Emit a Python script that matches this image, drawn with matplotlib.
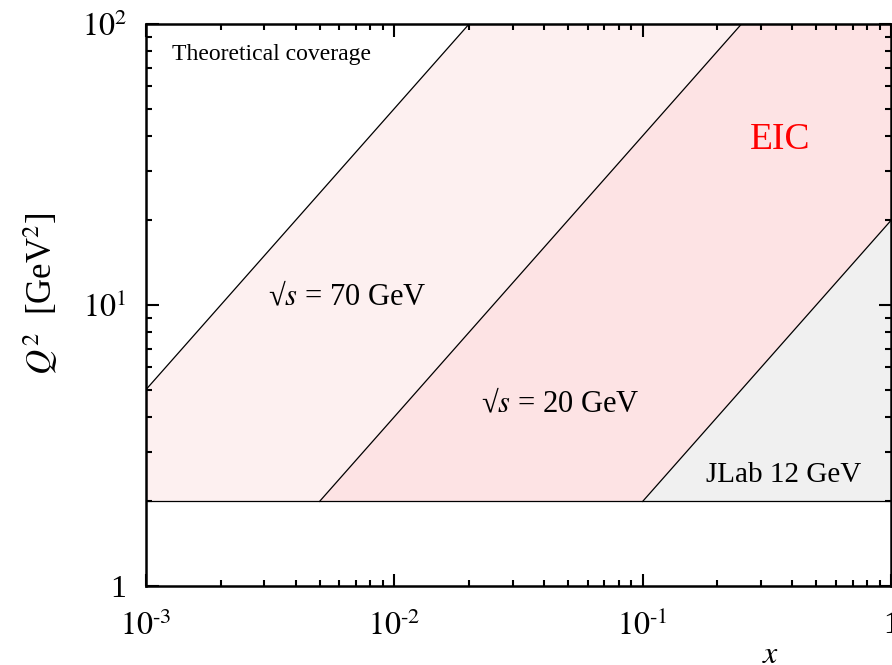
import matplotlib
matplotlib.use("Agg")
import matplotlib.pyplot as plt
from matplotlib.ticker import LogLocator, FixedLocator, NullFormatter

plt.rcParams['font.family'] = ['Liberation Serif', 'DejaVu Serif']
plt.rcParams['mathtext.fontset'] = 'stix'

# kinematic boundaries (x, Q^2)
x_70 = [0.001, 0.02]
q2_70 = [5.0, 100.0]
x_20 = [0.005, 0.25]
q2_20 = [2.0, 100.0]
x_jlab = [0.1, 1.0]
q2_jlab = [2.0, 20.0]
q2_cut = 2.0
x_range = [0.001, 1.0]
q2_range = [1.0, 100.0]

x_ticks = [0.001, 0.01, 0.1, 1.0]
x_tick_labels = [r'$10^{\text{-}3}$', r'$10^{\text{-}2}$', r'$10^{\text{-}1}$', '1']
y_ticks = [1.0, 10.0, 100.0]
y_tick_labels = ['1', r'$10^{1}$', r'$10^{2}$']

fig = plt.figure(figsize=(8.92, 6.65), dpi=100)
ax = fig.add_axes([146 / 892, 1 - 586 / 665, 745 / 892, 562 / 665])
ax.set_xscale('log')
ax.set_yscale('log')

# shaded regions
ax.fill([x_70[0]] + x_70 + x_20[::-1], [q2_cut] + q2_70 + q2_20[::-1],
        color='#fdf0f0', lw=0)
ax.fill(x_20 + [x_range[1]] + x_jlab[::-1], q2_20 + [q2_range[1]] + q2_jlab[::-1],
        color='#fde3e4', lw=0)
ax.fill(x_jlab + [x_jlab[1]], q2_jlab + [q2_cut], color='#f0f0f0', lw=0)

# boundary lines
for xs, ys in [(x_70, q2_70), (x_20, q2_20), (x_jlab, q2_jlab), (x_range, [q2_cut, q2_cut])]:
    ax.plot(xs, ys, color='black', lw=0.9)

ax.set_xlim(x_range)
ax.set_ylim(q2_range)

ax.xaxis.set_major_locator(FixedLocator(x_ticks))
ax.set_xticklabels(x_tick_labels)
ax.yaxis.set_major_locator(FixedLocator(y_ticks))
ax.set_yticklabels(y_tick_labels)
for axis in (ax.xaxis, ax.yaxis):
    axis.set_minor_locator(LogLocator(base=10, subs=range(2, 10)))
    axis.set_minor_formatter(NullFormatter())

ax.tick_params(which='both', direction='in', top=True, right=True, width=1.5, labelsize=23)
ax.tick_params(which='major', length=9)
ax.tick_params(which='minor', length=4.5)
ax.tick_params(axis='x', pad=18)
ax.tick_params(axis='y', pad=14)
for sp in ax.spines.values():
    sp.set_linewidth(1.8)

ax.set_xlabel(r'$x$', fontsize=23, va='center')
ax.xaxis.set_label_coords(0.838, -0.123)
ax.set_ylabel(r'$Q^2$  [GeV$^2$]', fontsize=25)
ax.yaxis.set_label_coords(-0.115, 0.52)

ax.text(0.035, 0.945, 'Theoretical coverage', transform=ax.transAxes,
        fontsize=17, ha='left', va='center')
ax.text(0.270, 0.512, '√$s$ = 70 GeV', transform=ax.transAxes,
        fontsize=22, ha='center', va='center')
ax.text(0.556, 0.322, '√$s$ = 20 GeV', transform=ax.transAxes,
        fontsize=22, ha='center', va='center')
ax.text(0.856, 0.198, 'JLab 12 GeV', transform=ax.transAxes,
        fontsize=21, ha='center', va='center')
ax.text(0.851, 0.794, 'EIC', transform=ax.transAxes,
        fontsize=27, ha='center', va='center', color='red')

fig.savefig('out.png', dpi=100)
